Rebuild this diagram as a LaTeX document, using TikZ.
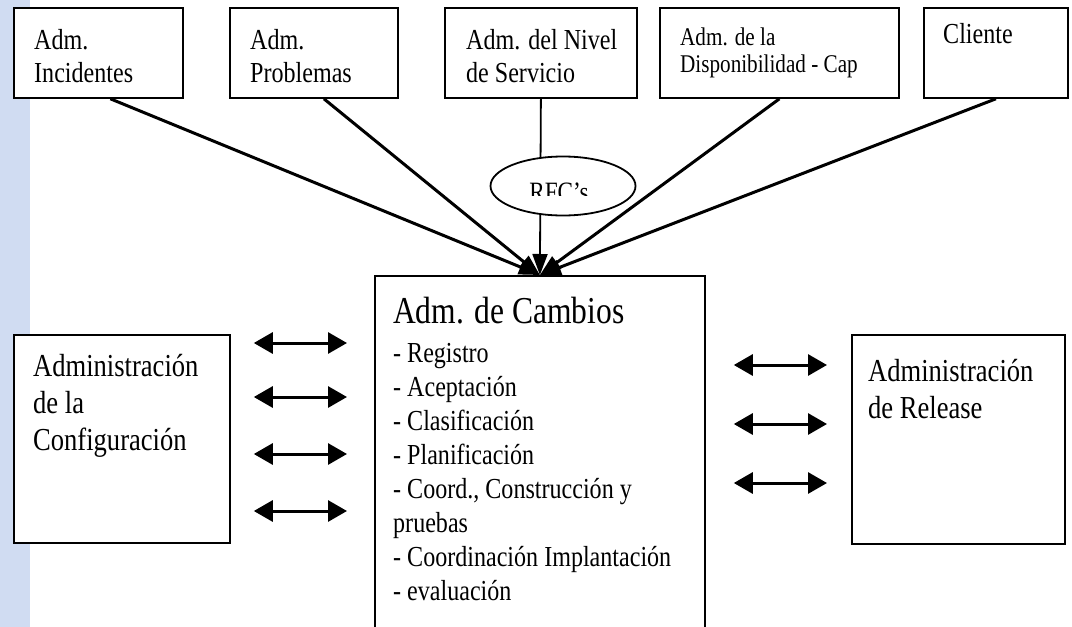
\documentclass[tikz,border=0pt]{standalone}
\usepackage{fontspec}
\setmainfont{Liberation Serif}[FakeStretch=0.83]
\usetikzlibrary{shapes,positioning,calc,arrows.meta}
\definecolor{stripblue}{RGB}{208,220,242}

\begin{document}
\begin{tikzpicture}[x=1pt, y=-1pt,
  box/.style={draw, line width=1.8pt, fill=white, inner sep=0pt, anchor=north west},
  txt/.style={anchor=north west, inner sep=0pt, align=left},
  feed/.style={line width=3pt, -{Triangle[length=21pt,width=15pt]}},
  dblarrow/.style={line width=3pt, {Triangle[length=19pt,width=21pt]}-{Triangle[length=19pt,width=21pt]}},
  topfont/.style={font=\fontsize{29}{33}\selectfont},
  sidefont/.style={font=\fontsize{32}{37}\selectfont}]
  \clip (0,0) rectangle (1072,627);
  \fill[stripblue] (0,0) rectangle (30,627);

  \node[box, minimum width=169pt, minimum height=90pt] (inc) at (13,7) {};
  \node[box, minimum width=168pt, minimum height=90pt] (prob) at (229,7) {};
  \node[box, minimum width=192pt, minimum height=90pt] (svc) at (444,7) {};
  \node[box, minimum width=239pt, minimum height=90pt] (disp) at (659,7) {};
  \node[box, minimum width=144pt, minimum height=90pt] (cli) at (923,7) {};
  \node[txt, topfont] (inc-t) at ([shift={(21,19)}]inc.north west) {\rule{0pt}{0.8em}Adm.\\Incidentes};
  \node[txt, topfont] (prob-t) at ([shift={(21,19)}]prob.north west) {\rule{0pt}{0.8em}Adm.\\Problemas};
  \node[txt, topfont] (svc-t) at ([shift={(22,19)}]svc.north west) {\rule{0pt}{0.8em}Adm. del Nivel\\de Servicio};
  \node[txt, font=\fontsize{25.5}{27}\selectfont] (disp-t) at ([shift={(21,18)}]disp.north west) {\rule{0pt}{0.8em}Adm. de la\\Disponibilidad - Cap};
  \node[txt, topfont] (cli-t) at ([shift={(20,13)}]cli.north west) {\rule{0pt}{0.8em}Cliente};

  \node[box, minimum width=330pt, minimum height=370pt] (cambios) at (374,275) {};
  \node[txt, font=\fontsize{38}{40}\selectfont] (cambios-t) at ([shift={(19,18)}]cambios.north west) {\rule{0pt}{0.8em}Adm. de Cambios};
  \node[txt, font=\fontsize{29}{34}\selectfont] (cambios-l) at ([shift={(19,64)}]cambios.north west)
    {\rule{0pt}{0.8em}- Registro\\- Aceptación\\- Clasificación\\- Planificación\\- Coord., Construcción y\\pruebas\\- Coordinación Implantación\\- evaluación};

  \node[box, minimum width=216pt, minimum height=208pt] (conf) at (13,334) {};
  \node[txt, sidefont] (conf-t) at ([shift={(20,17)}]conf.north west) {\rule{0pt}{0.8em}Administración\\de la\\Configuración};
  \node[box, minimum width=213pt, minimum height=209pt] (rel) at (851,334) {};
  \node[txt, sidefont] (rel-t) at ([shift={(17,22)}]rel.north west) {\rule{0pt}{0.8em}Administración\\de Release};

  \draw[feed] ([xshift=12pt]inc.south) -- (cambios.north);
  \draw[feed] ([xshift=10pt]prob.south) -- (cambios.north);
  \draw[feed, line width=1.8pt] (svc.south) -- (cambios.north);
  \draw[feed] (disp.south) -- (cambios.north);
  \draw[feed] (cli.south) -- (cambios.north);

  \node[draw, ellipse, line width=1.8pt, fill=white, minimum width=145pt, minimum height=59pt, inner sep=0pt] (rfc) at (563,186) {};
  \begin{scope}
    \clip (rfc.north west) rectangle ([shift={(0,9)}]rfc.east);
    \node[font=\fontsize{28}{30}\selectfont, anchor=base, inner sep=0pt] (rfc-t) at ([shift={(-4,15)}]rfc.center) {RFC’s};
  \end{scope}

  \foreach \y in {343,397,454,511}
    \draw[dblarrow] ($(conf.east |- 0,\y)+(23,0)$) -- ($(cambios.west |- 0,\y)+(-27,0)$);
  \foreach \y in {365,424,483}
    \draw[dblarrow] ($(cambios.east |- 0,\y)+(28,0)$) -- ($(rel.west |- 0,\y)+(-24,0)$);
\end{tikzpicture}
\end{document}
